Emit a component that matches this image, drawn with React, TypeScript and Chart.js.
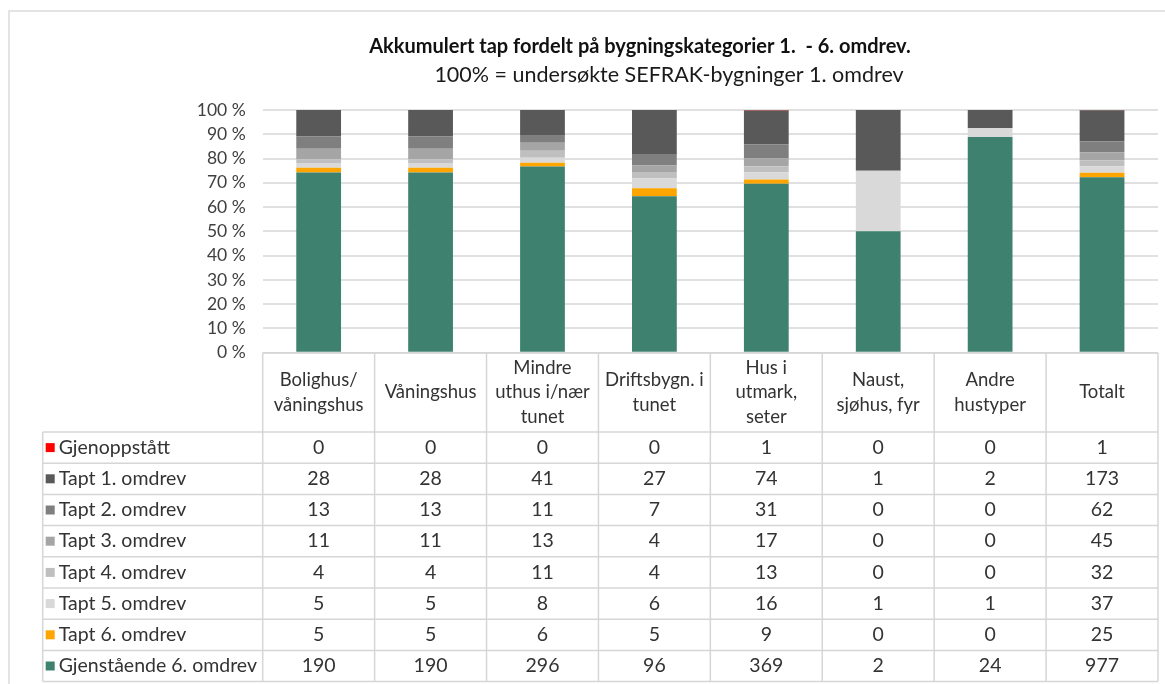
import React, { useEffect, useRef } from 'react';
import { Chart, registerables } from 'chart.js';

Chart.register(...registerables);

const TITLE = 'Akkumulert tap fordelt på bygningskategorier 1.  - 6. omdrev.';
const SUBTITLE = '100% = undersøkte SEFRAK-bygninger 1. omdrev';

const CATEGORIES: string[][] = [
  ['Bolighus/', 'våningshus'],
  ['Våningshus'],
  ['Mindre', 'uthus i/nær', 'tunet'],
  ['Driftsbygn. i', 'tunet'],
  ['Hus i', 'utmark,', 'seter'],
  ['Naust,', 'sjøhus, fyr'],
  ['Andre', 'hustyper'],
  ['Totalt'],
];

const GJENOPPSTATT = [0, 0, 0, 0, 1, 0, 0, 1];
const TAPT_1 = [28, 28, 41, 27, 74, 1, 2, 173];
const TAPT_2 = [13, 13, 11, 7, 31, 0, 0, 62];
const TAPT_3 = [11, 11, 13, 4, 17, 0, 0, 45];
const TAPT_4 = [4, 4, 11, 4, 13, 0, 0, 32];
const TAPT_5 = [5, 5, 8, 6, 16, 1, 1, 37];
const TAPT_6 = [5, 5, 6, 5, 9, 0, 0, 25];
const GJENSTAENDE = [190, 190, 296, 96, 369, 2, 24, 977];

const Y_MIN = 0;
const Y_MAX = 100;
const Y_STEP = 10;

// table order (top to bottom)
const SERIES = [
  { name: 'Gjenoppstått', values: GJENOPPSTATT, color: '#FF0000' },
  { name: 'Tapt 1. omdrev', values: TAPT_1, color: '#595959' },
  { name: 'Tapt 2. omdrev', values: TAPT_2, color: '#7F7F7F' },
  { name: 'Tapt 3. omdrev', values: TAPT_3, color: '#A5A5A5' },
  { name: 'Tapt 4. omdrev', values: TAPT_4, color: '#BFBFBF' },
  { name: 'Tapt 5. omdrev', values: TAPT_5, color: '#D9D9D9' },
  { name: 'Tapt 6. omdrev', values: TAPT_6, color: '#FFA500' },
  { name: 'Gjenstående 6. omdrev', values: GJENSTAENDE, color: '#3E816F' },
];

const FONT = 'Lato, "Noto Sans", sans-serif';
const TEXT_COLOR = '#333333';
const LINE_COLOR = '#D6D6D6';

const TABLE_LEFT = 42.7;
const HEADER_H = 79.3;
const ROW_H = 31.2;
const HEADER_LINE_H = 24.5;

const tablePlugin = {
  id: 'dataTable',
  afterDraw(chart: any) {
    const ctx = chart.ctx as CanvasRenderingContext2D;
    const area = chart.chartArea;
    const xs = chart.scales.x;
    const n = CATEGORIES.length;
    const colW = xs.getPixelForValue(1) - xs.getPixelForValue(0);
    const headerTop = area.bottom;
    const rowsTop = headerTop + HEADER_H;
    const tableBottom = rowsTop + SERIES.length * ROW_H;
    const left0 = xs.getPixelForValue(0) - colW / 2;
    const right = xs.getPixelForValue(n - 1) + colW / 2;

    ctx.save();
    // title
    ctx.fillStyle = '#111111';
    ctx.textAlign = 'center';
    ctx.textBaseline = 'middle';
    ctx.font = `bold 20px ${FONT}`;
    ctx.fillText(TITLE, 640, 47);
    ctx.font = `21.5px ${FONT}`;
    ctx.fillStyle = '#1a1a1a';
    ctx.fillText(SUBTITLE, 669, 75);

    // lines
    ctx.strokeStyle = LINE_COLOR;
    ctx.lineWidth = 1.5;
    ctx.beginPath();
    ctx.moveTo(left0, headerTop);
    ctx.lineTo(right, headerTop);
    for (let r = 0; r <= SERIES.length; r++) {
      const y = rowsTop + r * ROW_H;
      ctx.moveTo(TABLE_LEFT, y);
      ctx.lineTo(right, y);
    }
    ctx.moveTo(TABLE_LEFT, rowsTop);
    ctx.lineTo(TABLE_LEFT, tableBottom);
    for (let c = 0; c <= n; c++) {
      const x = left0 + c * colW;
      ctx.moveTo(x, headerTop);
      ctx.lineTo(x, tableBottom);
    }
    ctx.stroke();

    // header text
    ctx.fillStyle = TEXT_COLOR;
    ctx.font = `18.5px ${FONT}`;
    ctx.textAlign = 'center';
    ctx.textBaseline = 'middle';
    const headerMid = headerTop + HEADER_H / 2;
    CATEGORIES.forEach((lines, i) => {
      const cx = xs.getPixelForValue(i);
      const startY = headerMid - ((lines.length - 1) * HEADER_LINE_H) / 2;
      lines.forEach((ln, k) => ctx.fillText(ln, cx, startY + k * HEADER_LINE_H));
    });

    // rows
    ctx.font = `19.5px ${FONT}`;
    SERIES.forEach((s, r) => {
      const cy = rowsTop + r * ROW_H + ROW_H / 2;
      ctx.fillStyle = s.color;
      ctx.fillRect(TABLE_LEFT + 3, cy - 4.5, 9, 9);
      ctx.fillStyle = TEXT_COLOR;
      ctx.textAlign = 'left';
      ctx.fillText(s.name, TABLE_LEFT + 16, cy);
      ctx.textAlign = 'center';
      s.values.forEach((v, i) => {
        ctx.fillText(String(v), xs.getPixelForValue(i), cy);
      });
    });
    ctx.restore();
  },
};

export default function App() {
  const ref = useRef<HTMLCanvasElement | null>(null);

  useEffect(() => {
    if (!ref.current) return;
    const totals = CATEGORIES.map((_, i) => SERIES.reduce((a, s) => a + s.values[i], 0));
    const datasets = [...SERIES].reverse().map((s) => ({
      label: s.name,
      data: s.values.map((v, i) => (v / totals[i]) * 100),
      backgroundColor: s.color,
      borderWidth: 0,
      categoryPercentage: 1,
      barPercentage: 0.4,
    }));
    const chart = new Chart(ref.current, {
      type: 'bar',
      data: { labels: CATEGORIES.map((c) => c.join(' ')), datasets },
      options: {
        responsive: false,
        animation: false,
        devicePixelRatio: 1,
        layout: { padding: { left: 0, right: 7, top: 110, bottom: 331.3 } },
        plugins: { legend: { display: false }, tooltip: { enabled: false }, title: { display: false } },
        scales: {
          x: { stacked: true, display: false, grid: { display: false } },
          y: {
            stacked: true,
            min: Y_MIN,
            max: Y_MAX,
            border: { display: false },
            grid: { color: '#E0E0E0', lineWidth: 2, drawTicks: false },
            ticks: {
              stepSize: Y_STEP,
              padding: 17,
              color: '#404040',
              font: { family: FONT, size: 17.5 },
              callback: (v: any) => `${v} %`,
            },
            afterFit: (scale: any) => {
              scale.width = 262.7;
            },
          },
        },
      },
      plugins: [tablePlugin],
    });
    return () => chart.destroy();
  }, []);

  return (
    <div style={{ position: 'fixed', left: 0, top: 0, width: 1165, height: 684, background: '#fff', overflow: 'hidden' }}>
      <div
        style={{
          position: 'absolute',
          left: 8,
          top: 10,
          width: 1200,
          height: 700,
          borderLeft: '2px solid #E4E4E4',
          borderTop: '2px solid #E4E4E4',
        }}
      />
      <canvas ref={ref} width={1165} height={684} style={{ position: 'absolute', left: 0, top: 0 }} />
    </div>
  );
}
